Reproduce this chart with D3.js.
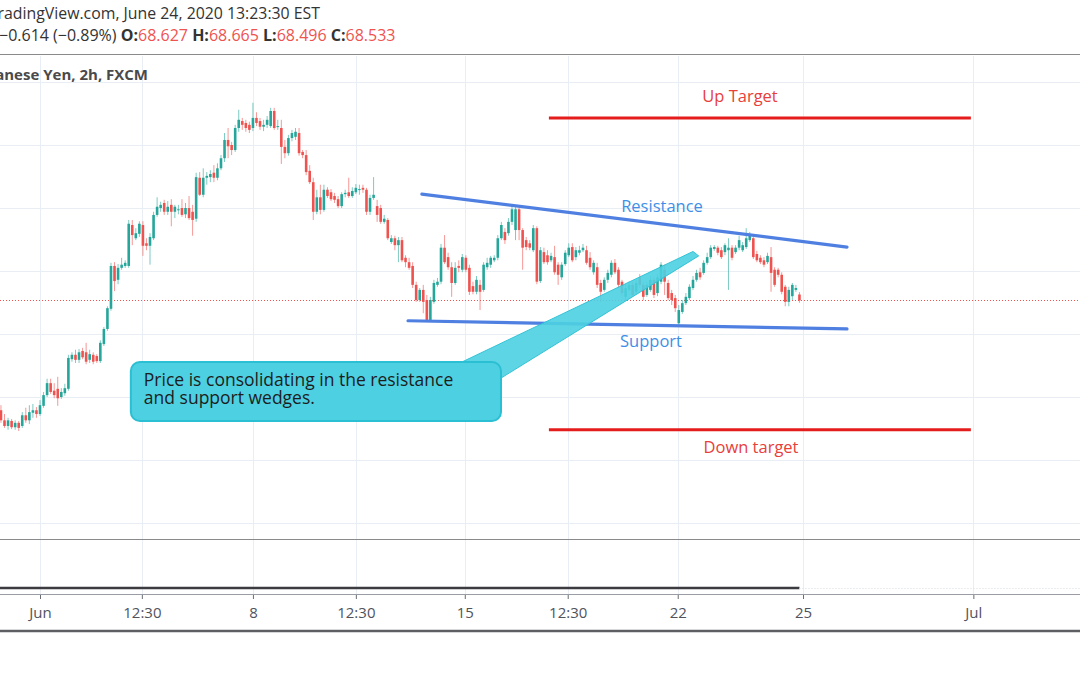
<!DOCTYPE html>
<html><head><meta charset="utf-8">
<script src="https://cdn.jsdelivr.net/npm/d3@7"></script>
<style>html,body{margin:0;padding:0;background:#fff;overflow:hidden}svg{display:block}</style>
</head><body>
<svg id="chart" width="1080" height="675"></svg>
<script>
// ---- DATA (NZD/JPY 2h, rows = [open, high, low, close]) ----
const firstBar = -11; // bar index of the first candle (bar 0 = "Jun")
const candlesLateMay = [
[66.79,66.87,66.59,66.63],[66.63,66.73,66.51,66.54],[66.54,66.67,66.48,66.63],[66.62,66.65,66.49,66.52],
[66.52,66.63,66.48,66.59],[66.59,66.62,66.46,66.51],[66.54,66.76,66.51,66.71],[66.71,66.83,66.59,66.63],
[66.63,66.87,66.57,66.76],[66.75,66.89,66.67,66.79],[66.79,66.84,66.67,66.73]];
const candlesWeek1 = [
[66.73,66.95,66.70,66.87],[66.86,67.08,66.83,67.03],[67.03,67.29,67.00,67.22],[67.22,67.29,67.05,67.08],
[67.10,67.22,66.98,67.03],[67.13,67.32,66.86,66.98],[67.00,67.14,66.97,67.08],[67.06,67.21,67.02,67.14],
[67.13,67.67,67.10,67.62],[67.60,67.71,67.56,67.67],[67.67,67.75,67.54,67.59],[67.59,67.76,67.54,67.71],
[67.73,67.78,67.60,67.63],[67.71,67.86,67.52,67.56],[67.59,67.75,67.54,67.68],[67.67,67.71,67.52,67.56],
[67.65,67.68,67.54,67.57],[67.57,67.90,67.54,67.86],[67.84,68.11,67.81,68.08],[68.08,68.44,68.05,68.41],
[68.40,69.13,68.37,69.08],[69.08,69.14,68.68,68.84],[68.86,69.11,68.79,69.05],[69.05,69.21,69.02,69.10],
[69.08,69.17,69.05,69.13],[69.08,69.81,69.05,69.75],[69.73,69.81,69.41,69.57],[69.52,69.68,69.49,69.60],
[69.59,69.79,69.54,69.75],[69.73,69.79,69.24,69.40],[69.44,69.52,69.33,69.40],[69.40,69.60,69.10,69.54],
[69.52,69.94,69.49,69.89],[69.89,70.17,69.86,70.02],[70.00,70.10,69.94,70.05],[70.08,70.13,69.89,69.94],
[69.94,70.11,69.89,70.02],[70.05,70.14,69.71,69.94],[69.94,70.05,69.84,70.02],[69.97,70.05,69.90,69.98],
[70.00,70.14,69.86,69.89],[69.90,70.08,69.84,70.00],[70.00,70.19,69.81,69.84],[69.94,70.05,69.56,69.81],
[69.83,70.56,69.78,70.49],[70.48,70.57,70.19,70.21],[70.21,70.63,70.17,70.48],[70.48,70.57,70.37,70.51],
[70.49,70.60,70.41,70.54],[70.56,70.68,70.41,70.48],[70.48,70.71,70.44,70.63],[70.63,70.84,70.60,70.79],
[70.79,71.19,70.73,71.08],[71.08,71.27,70.79,70.98],[71.00,71.05,70.84,70.92],[70.92,71.32,70.89,71.27],
[71.27,71.56,71.21,71.40],[71.38,71.43,71.24,71.32],[71.35,71.40,71.21,71.27],[71.32,71.37,71.19,71.24]];
const candlesWeek2 = [
[71.27,71.67,71.22,71.43],[71.43,71.52,71.30,71.35],[71.38,71.43,71.24,71.29],[71.29,71.40,71.22,71.32],
[71.32,71.46,71.27,71.40],[71.30,71.59,71.27,71.54],[71.54,71.59,71.24,71.27],[71.29,71.40,71.24,71.30],
[71.27,71.40,70.70,70.97],[70.97,71.08,70.79,70.87],[70.87,71.16,70.83,71.11],[71.11,71.24,71.06,71.19],
[71.13,71.27,71.08,71.21],[71.19,71.27,70.83,70.87],[70.89,70.92,70.79,70.84],[70.84,70.92,70.52,70.57],
[70.59,70.68,70.38,70.41],[70.41,70.48,69.81,69.94],[69.94,70.29,69.90,70.17],[70.17,70.37,69.90,69.97],
[69.97,70.37,69.94,70.29],[70.29,70.33,70.16,70.19],[70.25,70.30,70.11,70.14],[70.19,70.24,70.08,70.13],
[70.14,70.19,70.00,70.03],[70.03,70.25,70.00,70.22],[70.22,70.29,70.17,70.24],[70.25,70.48,70.16,70.19],
[70.19,70.33,70.16,70.27],[70.25,70.38,70.22,70.32],[70.29,70.37,70.21,70.30],[70.32,70.37,70.24,70.29],
[70.29,70.32,69.89,69.94],[69.94,70.21,69.89,70.16],[70.16,70.49,70.13,70.21],[70.03,70.13,69.78,69.89],
[70.00,70.05,69.75,69.78],[69.78,69.89,69.75,69.83],[69.81,69.84,69.49,69.52],[69.46,69.57,69.43,69.52],
[69.52,69.56,69.33,69.41],[69.41,69.54,69.14,69.49],[69.49,69.54,69.14,69.17],[69.21,69.25,69.06,69.14],
[69.14,69.21,69.02,69.05],[69.08,69.14,68.73,68.78],[68.78,68.83,68.51,68.54],[68.54,68.73,68.51,68.70],
[68.70,68.78,68.33,68.51],[68.54,68.62,68.19,68.22],[68.22,68.59,68.19,68.54],[68.51,68.86,68.48,68.81],
[68.78,68.89,68.75,68.83],[68.83,69.43,68.79,69.37],[69.37,69.57,69.11,69.14],[69.22,69.29,69.02,69.06],
[69.06,69.14,68.59,68.81],[68.81,69.14,68.78,69.05],[69.08,69.17,68.98,69.05],[69.02,69.27,68.98,69.22]];
const candlesWeek3 = [
[69.21,69.25,68.98,69.02],[69.05,69.10,68.62,68.67],[68.76,68.83,68.63,68.67],[68.67,68.92,68.63,68.86],
[68.78,68.86,68.38,68.67],[68.70,69.14,68.67,69.10],[69.06,69.21,69.02,69.13],[69.10,69.24,69.05,69.21],
[69.17,69.25,69.14,69.21],[69.21,69.57,69.17,69.52],[69.52,69.78,69.49,69.73],[69.62,69.68,69.43,69.49],
[69.60,69.84,69.56,69.78],[69.78,70.03,69.73,69.98],[69.65,70.02,69.49,69.98],[69.98,70.02,69.49,69.65],
[69.65,69.68,69.02,69.37],[69.49,69.54,69.33,69.38],[69.44,69.49,69.33,69.37],[69.33,69.73,69.30,69.68],
[69.68,69.71,68.79,68.83],[68.84,69.38,68.81,69.33],[69.30,69.37,69.11,69.14],[69.25,69.33,69.10,69.14],
[69.17,69.29,69.14,69.24],[69.22,69.40,68.94,68.98],[69.10,69.14,68.78,68.94],[68.90,69.14,68.86,69.10],
[69.11,69.33,69.08,69.29],[69.25,69.44,69.22,69.37],[69.38,69.44,69.14,69.17],[69.22,69.38,69.17,69.33],
[69.29,69.40,69.25,69.33],[69.33,69.43,69.30,69.37],[69.33,69.40,69.10,69.13],[69.21,69.30,69.02,69.06],
[68.98,69.17,68.94,69.13],[69.06,69.13,68.73,68.78],[68.81,68.86,68.51,68.67],[68.70,68.90,68.67,68.86],
[68.86,69.02,68.81,68.97],[68.94,69.17,68.90,69.13],[69.13,69.19,68.95,68.98],[69.02,69.06,68.73,68.78],
[68.83,68.86,68.60,68.65],[68.59,68.79,68.54,68.73],[68.70,68.83,68.67,68.78],[68.78,68.83,68.59,68.62],
[68.67,68.86,68.63,68.81],[68.90,68.95,68.73,68.78],[68.78,68.83,68.54,68.59],[68.62,68.83,68.59,68.78],
[68.70,68.92,68.67,68.86],[68.86,68.90,68.57,68.62],[68.65,68.95,68.60,68.90],[68.83,69.14,68.79,69.10],
[69.02,69.10,68.62,68.83],[68.81,68.86,68.54,68.57],[68.65,68.70,68.46,68.54],[68.57,68.62,68.35,68.41]];
const candlesWeek4 = [
[68.17,68.46,68.14,68.38],[68.35,68.54,68.32,68.49],[68.49,68.65,68.46,68.59],[68.57,68.79,68.54,68.75],
[68.73,68.92,68.70,68.86],[68.86,69.02,68.83,68.97],[68.98,69.05,68.86,68.90],[68.97,69.17,68.94,69.13],
[69.13,69.29,69.10,69.22],[69.22,69.41,69.19,69.37],[69.35,69.41,69.32,69.38],[69.37,69.40,69.25,69.29],
[69.33,69.38,69.19,69.22],[69.30,69.44,69.25,69.41],[69.33,69.52,68.70,69.37],[69.37,69.41,69.17,69.21],
[69.30,69.41,69.27,69.37],[69.37,69.56,69.33,69.49],[69.33,69.46,69.30,69.41],[69.38,69.68,69.35,69.52],
[69.49,69.62,69.46,69.56],[69.52,69.57,69.19,69.22],[69.27,69.32,69.14,69.17],[69.21,69.25,69.11,69.14],
[69.17,69.22,69.06,69.10],[69.14,69.29,69.11,69.24],[69.22,69.38,68.67,68.97],[69.02,69.06,68.75,68.78],
[69.02,69.05,68.90,68.94],[68.94,68.98,68.63,68.67],[68.75,68.78,68.44,68.51],[68.51,68.75,68.44,68.70],
[68.60,68.81,68.54,68.78],[68.70,68.78,68.67,68.73],[68.627,68.665,68.496,68.533]];

const tickBars   = [0, 28.7, 60, 89, 119.7, 148.7, 179.7, 215, 263];
const tickLabels = ["Jun", "12:30", "8", "12:30", "15", "12:30", "22", "25", "Jul"];
const priceGrid  = [65, 66, 67, 68, 69, 70, 71, 72];
const lastPrice  = 68.533;

// drawings: [bar, price]
const upTargetLine   = [[143.4, 71.43], [262.3, 71.43]];
const downTargetLine = [[143.4, 66.48], [262.3, 66.48]];
const resistanceLine = [[107.6, 70.22], [227.4, 69.38]];
const supportLine    = [[103.7, 68.21], [227.4, 68.08]];
const calloutBox     = [[25.6, 67.556], [129.9, 66.619]];
const calloutPointer = [[118.9, 67.556], [184.0, 69.31], [185.6, 69.24], [129.9, 67.30]];
const calloutLines   = ["Price is consolidating in the resistance", "and support wedges."];

// ---- CHART ----
const W = 1080, H = 675;
const svg = d3.select("#chart");
const x = d3.scaleLinear().domain([0, 215]).range([40, 803]);
const y = d3.scaleLinear().domain([65, 72]).range([523, 82]);
const FONT = "'Open Sans', 'Noto Sans', sans-serif";
const UP = "#26a69a", DOWN = "#ef5350";

const candles = [].concat(candlesLateMay, candlesWeek1, candlesWeek2, candlesWeek3, candlesWeek4)
  .map((r, i) => ({bar: firstBar + i, o: r[0], h: r[1], l: r[2], c: r[3]}));

svg.append("rect").attr("width", W).attr("height", H).attr("fill", "#fff");

// grid
svg.append("g").selectAll("line").data(priceGrid).join("line")
  .attr("x1", 0).attr("x2", W).attr("y1", d => Math.round(y(d)) + 0.5).attr("y2", d => Math.round(y(d)) + 0.5)
  .attr("stroke", "#e8eef3").attr("stroke-width", 1);
svg.append("g").selectAll("line").data(tickBars).join("line")
  .attr("x1", d => Math.round(x(d)) + 0.5).attr("x2", d => Math.round(x(d)) + 0.5)
  .attr("y1", 56).attr("y2", 594)
  .attr("stroke", "#e8eef3").attr("stroke-width", 1);

// header
svg.append("line").attr("x1", 0).attr("x2", W).attr("y1", 54.5).attr("y2", 54.5)
  .attr("stroke", "#8a8a8a").attr("stroke-width", 1.2);
svg.append("text").attr("x", 320).attr("y", 19).attr("text-anchor", "end")
  .attr("font-family", FONT).attr("font-size", 15.85).attr("fill", "#333")
  .text("TradingView.com, June 24, 2020 13:23:30 EST");
const hdr = svg.append("text").attr("x", -1).attr("y", 41)
  .attr("font-family", FONT).attr("font-size", 16).attr("fill", "#333");
hdr.append("tspan").text("\u22120.614 (\u22120.89%) ");
[["O:", "68.627"], ["H:", "68.665"], ["L:", "68.496"], ["C:", "68.533"]].forEach(([k, v]) => {
  hdr.append("tspan").attr("font-weight", "bold").attr("fill", "#333").text(k);
  hdr.append("tspan").attr("fill", "#ef5350").text(v + " ");
});
svg.append("text").attr("x", 148).attr("y", 80).attr("text-anchor", "end")
  .attr("font-family", FONT).attr("font-size", 15).attr("font-weight", "bold").attr("fill", "#4a4a4a")
  .text("New Zealand Dollar / Japanese Yen, 2h, FXCM");

// last price line
svg.append("line").attr("x1", 0).attr("x2", W)
  .attr("y1", Math.round(y(lastPrice)) + 0.5).attr("y2", Math.round(y(lastPrice)) + 0.5)
  .attr("stroke", DOWN).attr("stroke-width", 1).attr("stroke-dasharray", "1,2");

// candles
const bodyW = 2.6;
const cg = svg.append("g");
cg.selectAll("line").data(candles).join("line")
  .attr("x1", d => x(d.bar)).attr("x2", d => x(d.bar))
  .attr("y1", d => y(d.h)).attr("y2", d => y(d.l))
  .attr("stroke", d => d.c >= d.o ? UP : DOWN).attr("stroke-opacity", 0.6).attr("stroke-width", 1);
cg.selectAll("rect").data(candles).join("rect")
  .attr("x", d => x(d.bar) - bodyW / 2).attr("width", bodyW)
  .attr("y", d => y(Math.max(d.o, d.c)))
  .attr("height", d => Math.max(1, Math.abs(y(d.o) - y(d.c))))
  .attr("fill", d => d.c >= d.o ? UP : DOWN);

// target lines
const lineGen = d3.line().x(d => x(d[0])).y(d => y(d[1]));
[upTargetLine, downTargetLine].forEach(l => {
  svg.append("path").attr("d", lineGen(l)).attr("stroke", "#e51c1c").attr("stroke-width", 3).attr("fill", "none");
});
svg.append("text").attr("x", 740).attr("y", y(upTargetLine[0][1]) - 16)
  .attr("text-anchor", "middle").attr("font-family", FONT).attr("font-size", 16.5).attr("fill", "#e8403a").text("Up Target");
svg.append("text").attr("x", 751).attr("y", y(downTargetLine[0][1]) + 23)
  .attr("text-anchor", "middle").attr("font-family", FONT).attr("font-size", 16.5).attr("fill", "#e8403a").text("Down target");

// resistance / support
[resistanceLine, supportLine].forEach(l => {
  svg.append("path").attr("d", lineGen(l)).attr("stroke", "#4f80e1").attr("stroke-width", 3.2)
    .attr("fill", "none").attr("stroke-linecap", "round");
});
svg.append("text").attr("x", 662).attr("y", 211.5).attr("text-anchor", "middle")
  .attr("font-family", FONT).attr("font-size", 16.5).attr("fill", "#3d8fe8").text("Resistance");
svg.append("text").attr("x", 651).attr("y", 346.5).attr("text-anchor", "middle")
  .attr("font-family", FONT).attr("font-size", 16.5).attr("fill", "#3d8fe8").text("Support");

// callout
const bx0 = x(calloutBox[0][0]), by0 = y(calloutBox[0][1]);
const bx1 = x(calloutBox[1][0]), by1 = y(calloutBox[1][1]);
svg.append("path")
  .attr("d", "M" + calloutPointer.map(p => [x(p[0]), y(p[1])].join(",")).join("L") + "Z")
  .attr("fill", "#4dd0e1").attr("fill-opacity", 0.9).attr("stroke", "#33c3d6").attr("stroke-width", 1)
  .attr("stroke-linejoin", "round");
svg.append("rect").attr("x", bx0).attr("y", by0).attr("width", bx1 - bx0).attr("height", by1 - by0)
  .attr("rx", 9).attr("fill", "#4dd0e1").attr("stroke", "#2bbfd3").attr("stroke-width", 2);
calloutLines.forEach((t, i) => {
  svg.append("text").attr("x", bx0 + 13).attr("y", by0 + 24 + i * 18)
    .attr("font-family", FONT).attr("font-size", 17.5).attr("fill", "#1d1d1d").text(t);
});

// lower pane
svg.append("line").attr("x1", 0).attr("x2", W).attr("y1", 539.5).attr("y2", 539.5)
  .attr("stroke", "#8a8a8a").attr("stroke-width", 1);
svg.append("line").attr("x1", x(firstBar) - 5).attr("x2", x(candles[candles.length - 1].bar))
  .attr("y1", 588).attr("y2", 588).attr("stroke", "#3b3b40").attr("stroke-width", 2.5);
svg.append("line").attr("x1", x(candles[candles.length - 1].bar)).attr("x2", W)
  .attr("y1", 588.5).attr("y2", 588.5).attr("stroke", "#d6dde3").attr("stroke-width", 1).attr("stroke-dasharray", "1,2");

// x axis
const axis = d3.axisBottom(x).tickValues(tickBars).tickFormat((d, i) => tickLabels[i]).tickSize(5).tickPadding(8);
const ag = svg.append("g").attr("transform", "translate(0,594)").call(axis);
ag.select(".domain").remove();
ag.append("line").attr("x1", 0).attr("x2", W).attr("y1", 0.5).attr("y2", 0.5).attr("stroke", "#9a9ea4");
ag.selectAll(".tick line").attr("stroke", "#6a6d72");
ag.selectAll(".tick text").attr("font-family", FONT).attr("font-size", 15).attr("fill", "#50535e");
svg.append("line").attr("x1", 0).attr("x2", W).attr("y1", 631).attr("y2", 631)
  .attr("stroke", "#5d5f63").attr("stroke-width", 2.5);
</script>
</body></html>
